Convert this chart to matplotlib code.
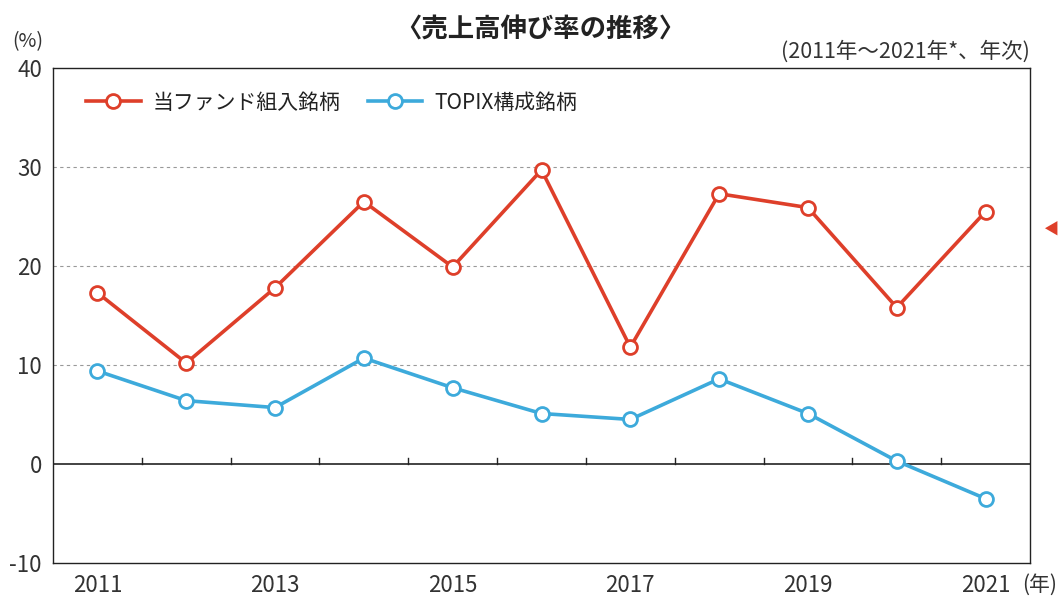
import matplotlib
matplotlib.use("Agg")
import matplotlib.pyplot as plt
import numpy as np

plt.rcParams['font.family'] = ['Noto Sans CJK JP', 'DejaVu Sans']

years = [2011, 2012, 2013, 2014, 2015, 2016, 2017, 2018, 2019, 2020, 2021]
fund = [17.3, 10.2, 17.8, 26.5, 19.9, 29.7, 11.8, 27.3, 25.9, 15.8, 25.5]
topix = [9.4, 6.4, 5.7, 10.7, 7.7, 5.1, 4.5, 8.6, 5.1, 0.3, -3.5]
series_names = ['当ファンド組入銘柄', 'TOPIX構成銘柄']
tick_years = ['2011', '2013', '2015', '2017', '2019', '2021']

RED = '#DE3F2A'
BLUE = '#3DAADB'
TXT = '#333333'

fig = plt.figure(figsize=(10.58, 5.97), dpi=100)
ax = fig.add_axes([53/1058, 34/597, (1030-53)/1058, (563-68)/597])

x = np.arange(len(years))
for vals, col, name in [(fund, RED, series_names[0]), (topix, BLUE, series_names[1])]:
    ax.plot(x, vals, color=col, lw=2.6, marker='o', markersize=10,
            markerfacecolor='white', markeredgecolor=col, markeredgewidth=2.0,
            label=name, zorder=4)

ax.set_xlim(-0.5, len(years) - 0.5)
ax.set_ylim(-10, 40)
ax.set_yticks([-10, 0, 10, 20, 30, 40])
ax.set_yticklabels(['-10', '0', '10', '20', '30', '40'], fontsize=16, color=TXT)
ax.tick_params(axis='y', length=0, pad=8)

idx = [years.index(int(t)) for t in tick_years]
ax.set_xticks(idx)
ax.set_xticklabels(tick_years, fontsize=16, color=TXT)
ax.tick_params(axis='x', length=0, pad=8)

for yv in [10, 20, 30]:
    ax.axhline(yv, color='#999999', lw=0.8, ls=(0, (3, 3)), zorder=1)
ax.axhline(0, color='#222222', lw=1.2, zorder=2)
# boundary ticks on the zero line
for b in np.arange(0.5, len(years) - 1, 1.0):
    ax.plot([b, b], [0, 0.6], color='#222222', lw=1.0, zorder=2)

for s in ax.spines.values():
    s.set_color('#222222')
    s.set_linewidth(1.0)

leg = ax.legend(loc='upper left', bbox_to_anchor=(0.015, 0.99), ncol=2, frameon=False,
                fontsize=15, handlelength=2.6, columnspacing=1.3, handletextpad=0.6)
for t in leg.get_texts():
    t.set_color('#222222')

fig.text(540/1058, 1 - 30/597, '〈売上高伸び率の推移〉', ha='center', va='center',
         fontsize=19, fontweight='bold', color='#222222')
fig.text(1030/1058, 1 - 52/597, '(2011年〜2021年*、年次)', ha='right', va='center',
         fontsize=15.5, color=TXT)
fig.text(28/1058, 1 - 42/597, '(%)', ha='center', va='center', fontsize=14, color=TXT)
fig.text(1057/1058, 1 - 585/597, '(年)', ha='right', va='center', fontsize=15, color=TXT)
fig.text(1043/1058, 1 - 230/597, '◀', ha='left', va='center', fontsize=11, color=RED)

fig.savefig('out.png', dpi=100)
